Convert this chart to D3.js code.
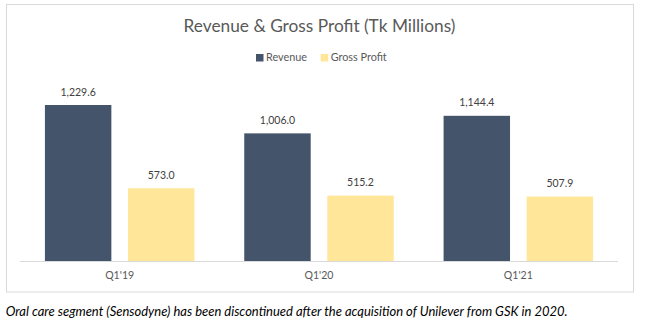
<!DOCTYPE html>
<html>
<head>
<meta charset="utf-8">
<script src="https://cdn.jsdelivr.net/npm/d3@7"></script>
<style>
  html, body { margin: 0; padding: 0; background: #fff; }
  svg { display: block; }
  text { font-family: Lato, "Open Sans", sans-serif; }
</style>
</head>
<body>
<svg id="chart" width="645" height="324"></svg>
<script>
// ---- data ----
const categories = ["Q1'19", "Q1'20", "Q1'21"];
const seriesNames = ["Revenue", "Gross Profit"];
const revenue = [1229.6, 1006.0, 1144.4];
const grossProfit = [573.0, 515.2, 507.9];
const titleText = "Revenue & Gross Profit (Tk Millions)";
const footnoteText = "Oral care segment (Sensodyne) has been discontinued after the acquisition of Unilever from GSK in 2020.";

const colors = { "Revenue": "#44546A", "Gross Profit": "#FFE699" };
const values = { "Revenue": revenue, "Gross Profit": grossProfit };

const svg = d3.select("#chart");

// fit font size of a selection so its first element matches target width
function fitFont(sel, baseSize, targetWidth) {
  sel.style("font-size", baseSize + "px");
  const w = sel.node().getComputedTextLength();
  const size = baseSize * targetWidth / w;
  sel.style("font-size", size.toFixed(2) + "px");
  return size;
}

// chart frame
svg.append("rect")
  .attr("x", 6.5).attr("y", 4.5)
  .attr("width", 627).attr("height", 287.5)
  .attr("fill", "#fff").attr("stroke", "#D9D9D9").attr("stroke-width", 1);

// title
const title = svg.append("text")
  .attr("x", 319.5).attr("y", 32.3)
  .attr("text-anchor", "middle")
  .attr("fill", "#595959")
  .text(titleText);
fitFont(title, 18.67, 272);

// legend
const legendItems = [
  { name: "Revenue", x: 256, w: 41 },
  { name: "Gross Profit", x: 320.7, w: 56.4 }
];
const lg = svg.append("g");
let legendSize = null;
legendItems.forEach((it, i) => {
  lg.append("rect")
    .attr("x", it.x).attr("y", 54)
    .attr("width", 7.5).attr("height", 7.5)
    .attr("fill", colors[it.name]);
  const t = lg.append("text")
    .attr("x", it.x + 10).attr("y", 60.8)
    .attr("fill", "#595959")
    .text(it.name);
  if (i === 0) legendSize = fitFont(t, 12, it.w);
  else t.style("font-size", legendSize.toFixed(2) + "px");
});

// scales
const x0 = d3.scaleBand().domain(categories).range([20, 618]).paddingInner(0).paddingOuter(0);
const x1 = d3.scaleBand().domain(seriesNames).range([0, x0.bandwidth()]).paddingInner(0.2).paddingOuter(0.3);
const baseY = 261;
const y = d3.scaleLinear().domain([0, 1400]).range([baseY, baseY - 1400 * (156 / 1229.6)]);

// bars
const groups = svg.append("g").selectAll("g")
  .data(categories)
  .join("g")
  .attr("transform", d => `translate(${x0(d)},0)`);

const barData = (cat, ci) => seriesNames.map(s => ({ series: s, value: values[s][ci] }));

groups.each(function(cat, ci) {
  const g = d3.select(this);
  const data = barData(cat, ci);
  g.selectAll("rect")
    .data(data)
    .join("rect")
    .attr("x", d => x1(d.series))
    .attr("y", d => y(d.value))
    .attr("width", x1.bandwidth())
    .attr("height", d => y(0) - y(d.value))
    .attr("fill", d => colors[d.series]);
  g.selectAll("text.lbl")
    .data(data)
    .join("text")
    .attr("class", "lbl")
    .attr("x", d => x1(d.series) + x1.bandwidth() / 2)
    .attr("y", d => y(d.value) - 9.5)
    .attr("text-anchor", "middle")
    .attr("fill", "#404040")
    .text(d => d3.format(",.1f")(d.value));
});

const labels = svg.selectAll("text.lbl");
const lblSize = fitFont(d3.select(labels.nodes()[0]), 12, 35.3);
labels.style("font-size", lblSize.toFixed(2) + "px");

// x axis
const xAxis = d3.axisBottom(x0).tickSize(0).tickPadding(0);
const axG = svg.append("g").attr("transform", `translate(0,${baseY})`).call(xAxis);
axG.select(".domain").attr("stroke", "#D9D9D9").attr("d", "M20,0.5H618");
axG.selectAll(".tick text")
  .attr("dy", null)
  .attr("y", 18)
  .attr("fill", "#595959")
  .style("font-family", "Lato, sans-serif");
const tickSize = fitFont(d3.select(axG.selectAll(".tick text").nodes()[0]), 12, 29);
axG.selectAll(".tick text").style("font-size", tickSize.toFixed(2) + "px");

// footnote
const fn = svg.append("text")
  .attr("x", 5.7).attr("y", 315.7)
  .attr("fill", "#000")
  .style("font-style", "italic")
  .text(footnoteText);
fitFont(fn, 13.33, 562);
</script>
</body>
</html>
